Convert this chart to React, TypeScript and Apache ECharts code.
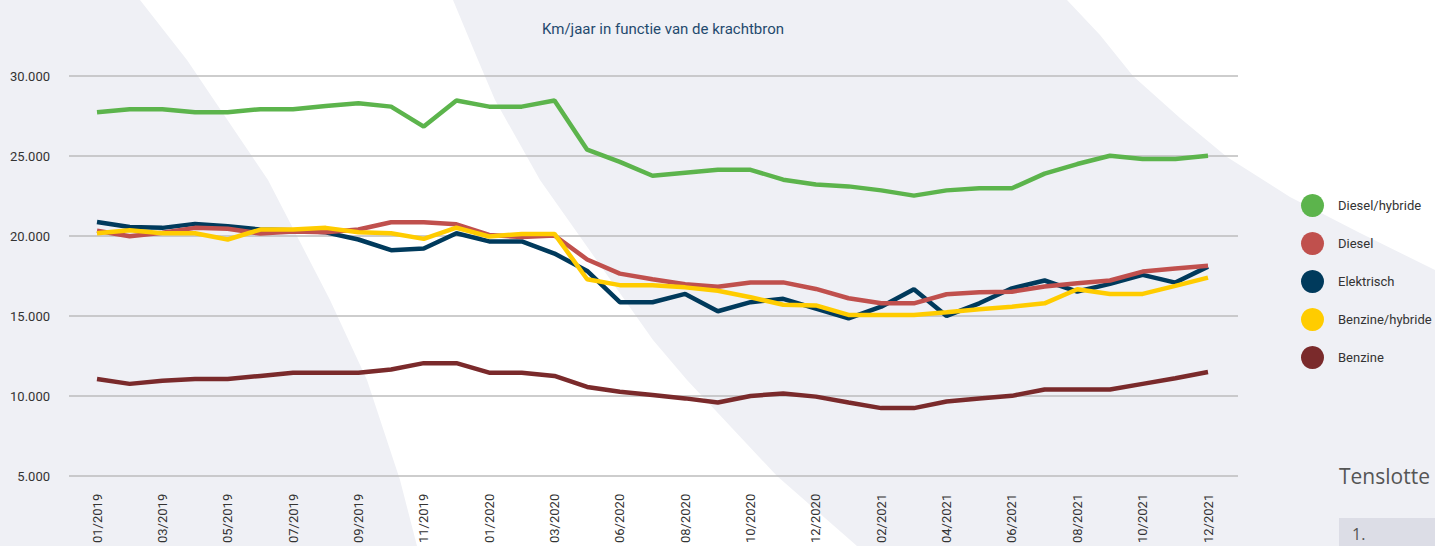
import React, { useEffect, useRef } from "react";
import * as echarts from "echarts";

const categories = [
  "01/2019", "02/2019", "03/2019", "04/2019", "05/2019", "06/2019", "07/2019", "08/2019", "09/2019", "10/2019", "11/2019", "12/2019",
  "01/2020", "02/2020", "03/2020", "05/2020", "06/2020", "07/2020", "08/2020", "09/2020", "10/2020", "11/2020", "12/2020",
  "01/2021", "02/2021", "03/2021", "04/2021", "05/2021", "06/2021", "07/2021", "08/2021", "09/2021", "10/2021", "11/2021", "12/2021",
];

const dieselHybride = [27730, 27920, 27920, 27730, 27730, 27920, 27920, 28120, 28290, 28080, 26830, 28460, 28080, 28080, 28460, 25380, 24620, 23750, 23940, 24120, 24120, 23500, 23200, 23080, 22830, 22500, 22830, 22960, 22960, 23880, 24480, 25000, 24790, 24790, 25000];
const diesel = [20300, 19960, 20170, 20480, 20420, 20125, 20250, 20200, 20375, 20830, 20830, 20700, 20040, 19900, 20000, 18500, 17610, 17260, 16950, 16790, 17060, 17060, 16650, 16070, 15750, 15750, 16320, 16440, 16480, 16800, 17010, 17180, 17740, 17930, 18100];
const elektrisch = [20850, 20540, 20480, 20730, 20580, 20375, 20330, 20200, 19750, 19080, 19190, 20140, 19630, 19630, 18870, 17780, 15820, 15820, 16340, 15250, 15820, 16030, 15420, 14810, 15540, 16630, 14960, 15750, 16690, 17180, 16490, 16970, 17530, 17050, 18050];
const benzineHybride = [20140, 20330, 20140, 20140, 19750, 20375, 20375, 20480, 20200, 20140, 19790, 20490, 19940, 20100, 20100, 17260, 16890, 16890, 16750, 16540, 16130, 15660, 15620, 15020, 15020, 15020, 15190, 15380, 15540, 15750, 16630, 16340, 16340, 16840, 17360];
const benzine = [11000, 10700, 10900, 11000, 11000, 11200, 11400, 11400, 11400, 11600, 12000, 12000, 11400, 11400, 11200, 10510, 10200, 10000, 9790, 9530, 9940, 10100, 9900, 9530, 9180, 9180, 9590, 9780, 9950, 10350, 10350, 10350, 10700, 11050, 11440];

const seriesNames = ["Diesel/hybride", "Diesel", "Elektrisch", "Benzine/hybride", "Benzine"];
const seriesColors = ["#5cb44c", "#c0504d", "#003a5c", "#ffcc00", "#7a2a2b"];

const FONT = "Roboto, sans-serif";

const bandA = [[140, 0], [453, 0], [478, 60], [495, 100], [540, 180], [600, 265], [653, 340], [687, 380], [777, 476], [857, 546], [417, 546], [400, 480], [367, 380], [330, 300], [268, 180], [187, 60]];
const bandB = [[1067, 0], [1100, 35], [1133, 76], [1180, 118], [1227, 157], [1290, 197], [1360, 233], [1435, 270], [1435, 0]];

function fmt(v: number) {
  return String(v).replace(/\B(?=(\d{3})+(?!\d))/g, ".");
}

export default function App() {
  const ref = useRef<HTMLDivElement>(null);
  useEffect(() => {
    const chart = echarts.init(ref.current!, null, { renderer: "svg" });
    const values = [dieselHybride, diesel, elektrisch, benzineHybride, benzine];
    const drawOrder = [0, 2, 1, 3, 4];
    chart.setOption({
      animation: false,
      backgroundColor: "#ffffff",
      title: {
        text: "Km/jaar in functie van de krachtbron",
        left: 537,
        top: 16,
        textStyle: { fontSize: 15, fontWeight: "normal", color: "#1f4a6e", fontFamily: FONT },
      },
      graphic: [
        { type: "rect", z: -100, silent: true, shape: { x: 0, y: 0, width: 1435, height: 546 }, style: { fill: "#eff0f5" } },
        { type: "polygon", z: -99, silent: true, shape: { points: bandA }, style: { fill: "#ffffff" } },
        { type: "polygon", z: -99, silent: true, shape: { points: bandB }, style: { fill: "#ffffff" } },
        { type: "text", z: 10, x: 1339, y: 465, style: { text: "Tenslotte", fontSize: 21, fill: "#555555", fontFamily: "Open Sans, sans-serif" } },
        { type: "rect", z: -90, shape: { x: 1339, y: 518, width: 96, height: 28 }, style: { fill: "#dcdde6" } },
        { type: "text", z: 10, x: 1352, y: 526, style: { text: "1.", fontSize: 16, fill: "#555555", fontFamily: "Open Sans, sans-serif" } },
      ],
      legend: {
        data: seriesNames,
        orient: "vertical",
        left: 1296,
        top: 189,
        itemWidth: 23,
        itemHeight: 23,
        itemGap: 15,
        icon: "circle",
        textStyle: { fontSize: 13, color: "#333333", fontFamily: FONT, padding: [0, 0, 0, 9] },
      },
      grid: [
        { left: 97, right: 227, top: 76, bottom: 70 },
        { left: 69, right: 197, top: 76, bottom: 70 },
      ],
      xAxis: [
        {
          gridIndex: 0,
          type: "category",
          boundaryGap: false,
          data: categories,
          axisLine: { show: false },
          axisTick: { show: false },
          splitLine: { show: false },
          axisLabel: { interval: 1, rotate: 90, margin: 19, fontSize: 13, color: "#333333", fontFamily: FONT },
        },
        { gridIndex: 1, type: "value", min: 0, max: 1, show: false },
      ],
      yAxis: [
        { gridIndex: 0, type: "value", min: 5000, max: 30000, interval: 5000, show: false },
        {
          gridIndex: 1,
          type: "value",
          min: 5000,
          max: 30000,
          interval: 5000,
          axisLine: { show: false },
          axisTick: { show: false },
          splitLine: { show: true, lineStyle: { color: "#bcbcbc", width: 1.5 } },
          axisLabel: { margin: 19, fontSize: 13, color: "#333333", fontFamily: FONT, formatter: (v: number) => fmt(v) },
        },
      ],
      series: drawOrder.map((i) => ({
        name: seriesNames[i],
        type: "line",
        xAxisIndex: 0,
        yAxisIndex: 0,
        data: values[i],
        symbol: "none",
        color: seriesColors[i],
        lineStyle: { width: 4.5, color: seriesColors[i] },
        itemStyle: { color: seriesColors[i] },
      })),
    });
    return () => chart.dispose();
  }, []);
  return <div ref={ref} style={{ position: "absolute", left: 0, top: 0, width: 1435, height: 546 }} />;
}
